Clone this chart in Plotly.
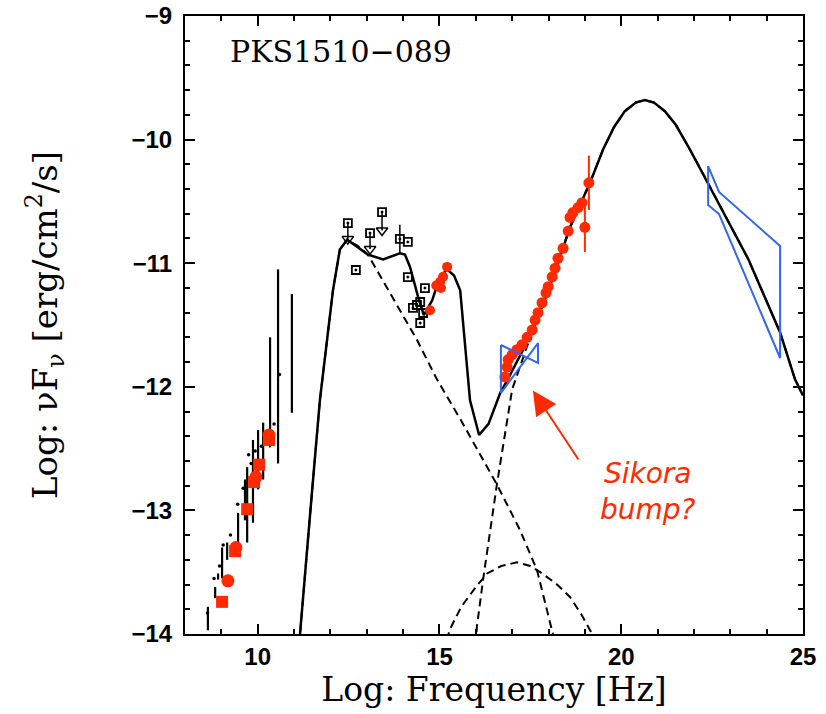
import plotly.graph_objects as go

# ---------------- data ----------------
# total model (solid)
model_x = [11.05, 11.16, 11.45, 11.71, 11.90, 12.07, 12.26, 12.46, 12.75, 13.03, 13.45, 13.91, 14.05,
           14.19, 14.41, 14.57, 14.80, 15.00, 15.21, 15.40, 15.57, 15.70, 15.84, 16.09, 16.35, 16.67,
           16.86, 17.30, 18.00, 18.59, 19.14, 19.50, 19.80, 20.10, 20.40, 20.65, 20.90, 21.20, 21.50,
           21.89, 22.44, 23.50, 24.37, 24.78, 25.00]
model_y = [-14.40, -14.00, -13.00, -12.11, -11.62, -11.22, -10.89, -10.81, -10.87, -10.93, -10.97,
           -10.92, -10.93, -11.03, -11.27, -11.42, -11.30, -11.12, -11.05, -11.10, -11.22, -11.62,
           -12.11, -12.39, -12.30, -12.05, -11.95, -11.70, -11.22, -10.71, -10.35, -10.08, -9.90,
           -9.77, -9.70, -9.68, -9.70, -9.77, -9.88, -10.08, -10.38, -10.97, -11.56, -11.94, -12.07]

# synchrotron component (dashed)
sync_x = [11.05, 11.16, 11.45, 11.71, 11.90, 12.07, 12.26, 12.46, 12.75, 13.03, 13.50, 14.38, 14.93,
          15.57, 16.58, 17.20, 17.68, 18.12, 18.25]
sync_y = [-14.40, -14.00, -13.00, -12.11, -11.62, -11.22, -10.89, -10.81, -10.86, -10.93, -11.17,
          -11.62, -11.94, -12.26, -12.79, -13.15, -13.48, -14.00, -14.20]

# external Compton component (dashed)
ec_x = [15.95, 16.03, 16.20, 16.58, 17.00, 17.40, 18.00, 18.59, 19.14, 19.50, 19.80, 20.10, 20.40,
        20.65, 20.90, 21.20, 21.50, 21.89, 22.44, 23.50, 24.37, 24.78, 25.00]
ec_y = [-14.30, -13.94, -13.56, -12.79, -12.02, -11.68, -11.22, -10.71, -10.35, -10.08, -9.90,
        -9.77, -9.70, -9.68, -9.70, -9.77, -9.88, -10.08, -10.38, -10.97, -11.56, -11.94, -12.07]

# SSC component (dashed)
ssc_x = [15.10, 15.29, 15.60, 16.00, 16.31, 16.70, 17.13, 17.50, 17.77, 18.20, 18.59, 18.90, 19.20, 19.35]
ssc_y = [-14.15, -13.96, -13.78, -13.62, -13.51, -13.45, -13.42, -13.45, -13.50, -13.59, -13.70,
         -13.84, -14.00, -14.10]

# red X-ray points
xray_x = [16.80, 16.86, 16.89, 17.00, 17.13, 17.27, 17.41, 17.55, 17.63, 17.71, 17.82, 17.93, 17.99,
          18.10, 18.18, 18.26, 18.40, 18.54, 18.59, 18.67, 18.81, 18.92, 19.00, 19.11]
xray_y = [-11.92, -11.84, -11.78, -11.74, -11.70, -11.66, -11.60, -11.54, -11.46, -11.40, -11.32,
          -11.24, -11.19, -11.11, -11.04, -10.96, -10.88, -10.74, -10.63, -10.59, -10.55, -10.51,
          -10.71, -10.35]
xray_err = [0, 0, 0, 0, 0, 0, 0, 0, 0, 0, 0, 0, 0, 0, 0, 0, 0, 0, 0, 0, 0, 0, 0.20, 0.22]

# red optical/UV points
uv_x = [15.21, 15.10, 15.02, 14.91, 15.04, 14.74]
uv_y = [-11.03, -11.11, -11.15, -11.18, -11.20, -11.38]

# black open squares (historical IR/optical)
opt_x = [12.70, 13.91, 14.13, 14.13, 14.60, 14.47, 14.27, 14.38, 14.55, 14.47]
opt_y = [-11.055, -10.804, -10.828, -11.112, -11.201, -11.314, -11.362, -11.338, -11.403, -11.484]
opt_err = [0, 0.115, 0, 0, 0, 0, 0, 0, 0, 0]

# upper limits
ul_x = [12.48, 13.09, 13.42]
ul_y = [-10.675, -10.756, -10.586]
ul_len = [0.13, 0.13, 0.15]

# red radio points
rad_sq_x = [9.02, 9.38, 9.71, 9.90, 10.04, 10.31]
rad_sq_y = [-13.74, -13.33, -12.99, -12.77, -12.63, -12.43]
rad_ci_x = [9.18, 9.40, 9.95, 10.31]
rad_ci_y = [-13.57, -13.30, -12.73, -12.39]

# black radio variability ranges
rvar_x = [8.63, 8.83, 8.91, 9.02, 9.16, 9.46, 9.65, 9.71, 9.87, 10.01, 10.15, 10.34, 10.56, 10.94]
rvar_lo = [-13.97, -13.71, -13.56, -13.55, -13.40, -13.30, -13.08, -13.26, -13.10, -12.83, -12.75,
           -12.49, -12.62, -12.21]
rvar_hi = [-13.78, -13.62, -13.51, -13.30, -13.26, -13.02, -12.75, -12.65, -12.43, -12.35, -12.29,
           -11.60, -11.05, -11.25]
rdot_x = [8.62, 8.80, 8.95, 9.05, 9.25, 9.45, 9.60, 9.75, 9.82, 9.93, 10.10, 10.20, 10.45, 10.60]
rdot_y = [-13.83, -13.55, -13.45, -13.28, -13.20, -12.95, -12.82, -12.55, -12.62, -12.52, -12.48,
          -12.42, -12.30, -11.90]

# Fermi bow-ties
fermi_x = [16.69, 17.71, 17.71, 16.69, 16.69]
fermi_y = [-11.662, -11.807, -11.646, -12.050, -11.662]
lat_x = [22.39, 22.69, 24.37, 24.37, 22.69, 22.39, 22.39]
lat_y = [-10.214, -10.424, -10.861, -11.767, -10.602, -10.529, -10.214]

RED = '#FF2A00'
BLUE = '#3366EE'
DASH = '8px,5px'

fig = go.Figure()

# radio variability segments
seg_x, seg_y = [], []
for x, lo, hi in zip(rvar_x, rvar_lo, rvar_hi):
    seg_x += [x, x, None]
    seg_y += [lo, hi, None]
fig.add_trace(go.Scatter(x=seg_x, y=seg_y, mode='lines', line=dict(color='black', width=2.2),
                         hoverinfo='skip'))
fig.add_trace(go.Scatter(x=rdot_x, y=rdot_y, mode='markers',
                         marker=dict(color='black', size=3.5), hoverinfo='skip'))

# model curves
fig.add_trace(go.Scatter(x=sync_x, y=sync_y, mode='lines', line=dict(color='black', width=2, dash=DASH)))
fig.add_trace(go.Scatter(x=ec_x, y=ec_y, mode='lines', line=dict(color='black', width=2, dash=DASH)))
fig.add_trace(go.Scatter(x=ssc_x, y=ssc_y, mode='lines', line=dict(color='black', width=2, dash=DASH)))
fig.add_trace(go.Scatter(x=model_x, y=model_y, mode='lines', line=dict(color='black', width=2.5)))

# upper limits
ulx, uly = [], []
for x, y, l in zip(ul_x, ul_y, ul_len):
    ulx += [x, x, None]
    uly += [y, y - l, None]
fig.add_trace(go.Scatter(x=ulx, y=uly, mode='lines', line=dict(color='black', width=1.5)))
fig.add_trace(go.Scatter(x=ul_x, y=[y - l for y, l in zip(ul_y, ul_len)], mode='markers',
                         marker=dict(symbol='triangle-down-open', size=10, color='black',
                                     line=dict(width=1.5))))
fig.add_trace(go.Scatter(x=ul_x, y=ul_y, mode='markers',
                         marker=dict(symbol='square-open-dot', size=8, color='black',
                                     line=dict(width=1.8))))

# optical squares
fig.add_trace(go.Scatter(x=opt_x, y=opt_y, mode='markers',
                         error_y=dict(type='data', array=opt_err, color='black', thickness=1.5, width=0),
                         marker=dict(symbol='square-open-dot', size=8, color='black',
                                     line=dict(width=1.8))))

# red data
fig.add_trace(go.Scatter(x=uv_x, y=uv_y, mode='markers', marker=dict(color=RED, size=10)))
fig.add_trace(go.Scatter(x=xray_x, y=xray_y, mode='markers',
                         error_y=dict(type='data', array=xray_err, color=RED, thickness=2, width=0),
                         marker=dict(color=RED, size=11)))
fig.add_trace(go.Scatter(x=rad_sq_x, y=rad_sq_y, mode='markers',
                         marker=dict(symbol='square', color=RED, size=12)))
fig.add_trace(go.Scatter(x=rad_ci_x, y=rad_ci_y, mode='markers',
                         marker=dict(symbol='circle', color=RED, size=13)))

# bow-ties
fig.add_trace(go.Scatter(x=fermi_x, y=fermi_y, mode='lines', line=dict(color=BLUE, width=2)))
fig.add_trace(go.Scatter(x=lat_x, y=lat_y, mode='lines', line=dict(color=BLUE, width=2)))

# annotations
fig.add_annotation(x=0.07, y=0.942, xref='paper', yref='paper', text='PKS1510\u2212089',
                   showarrow=False, xanchor='left', yanchor='middle',
                   font=dict(family='DejaVu Serif', size=30, color='black'))
fig.add_annotation(x=17.57, y=-12.03, ax=18.85, ay=-12.6, xref='x', yref='y', axref='x', ayref='y',
                   text='', showarrow=True, arrowhead=2, arrowsize=2.4, arrowwidth=2,
                   arrowcolor=RED, standoff=0)
fig.add_annotation(x=20.74, y=-12.85, xref='x', yref='y', text='<i>Sikora<br>bump?</i>',
                   showarrow=False, xanchor='center', yanchor='middle', align='center',
                   font=dict(family='DejaVu Sans', size=28, color=RED))

axis_common = dict(showline=True, linecolor='black', linewidth=2, mirror='ticks',
                   ticks='inside', tickwidth=2, ticklen=10, tickcolor='black',
                   showgrid=False, zeroline=False, automargin=False,
                   tickfont=dict(family='Liberation Sans', size=24, color='black', weight='bold'))

fig.update_xaxes(range=[8, 25], tickvals=[10, 15, 20, 25], ticktext=['10', '15', '20', '25'],
                 minor=dict(dtick=1, tick0=8, ticks='inside', ticklen=5, tickwidth=1.5,
                            tickcolor='black'),
                 title=dict(text='Log: Frequency [Hz]', standoff=8,
                            font=dict(family='DejaVu Serif', size=33, color='black')),
                 **axis_common)
fig.update_yaxes(range=[-14, -9], tickvals=[-14, -13, -12, -11, -10, -9],
                 ticktext=['\u221214', '\u221213', '\u221212', '\u221211', '\u221210', '\u22129'],
                 ticklabelstandoff=6,
                 minor=dict(dtick=0.2, tick0=-14, ticks='inside', ticklen=5, tickwidth=1.5,
                            tickcolor='black'),
                 title=dict(text='Log: \u03bdF<sub>\u03bd</sub> [erg/cm<sup>2</sup>/s]', standoff=64,
                            font=dict(family='DejaVu Serif', size=34, color='black')),
                 **axis_common)

fig.update_layout(width=826, height=714, margin=dict(l=185, r=23, t=16, b=80),
                  plot_bgcolor='white', paper_bgcolor='white', showlegend=False)

fig.write_html('out.html')
